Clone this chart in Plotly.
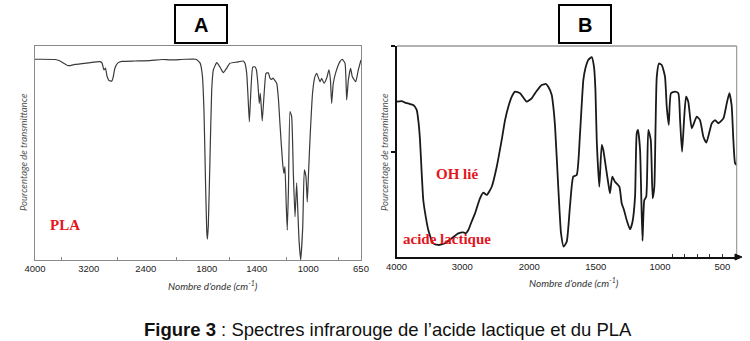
import numpy as np
import plotly.graph_objects as go

W, H = 750, 341

# ---------------- data: Panel A (PLA) ----------------
pla_wn = [4000, 3702, 3627, 3504, 3404, 3210, 3042, 3014, 2986, 2965,
          2944, 2916, 2878, 2860, 2832, 2790, 2734, 2552, 2359, 2240,
          2162, 2014, 1906, 1866, 1843, 1827, 1812, 1800, 1795, 1787,
          1774, 1760, 1747, 1720, 1694, 1667, 1640, 1614, 1558, 1507,
          1494, 1480, 1470, 1459, 1450, 1432, 1414, 1402, 1390, 1380,
          1372, 1364, 1357, 1343, 1328, 1310, 1297, 1284, 1274, 1245,
          1231, 1220, 1199, 1189, 1181, 1171, 1163, 1154, 1142, 1129,
          1116, 1103, 1090, 1080, 1072, 1059, 1043, 1031, 1018, 1008,
          999, 989, 971, 956, 944, 922, 911, 896, 878, 863,
          853, 845, 834, 816, 790, 774, 756, 745, 734, 719,
          708, 685, 668, 650]
pla_t = [93.8, 93.7, 93.0, 90.8, 91.4, 92.1, 92.7, 92.1, 88.8, 89.7,
         86.0, 83.9, 83.6, 85.0, 89.7, 92.1, 92.8, 93.0, 93.2, 93.7,
         93.5, 93.8, 93.8, 92.1, 86.4, 70.1, 37.4, 14.0, 9.7, 16.4,
         46.7, 79.4, 88.8, 92.2, 90.2, 87.5, 89.7, 91.9, 92.5, 93.0,
         91.9, 87.2, 77.1, 64.6, 74.8, 90.1, 90.3, 88.8, 81.8, 73.2,
         77.9, 71.0, 65.0, 77.1, 87.2, 87.5, 85.0, 84.4, 85.0, 82.6,
         74.8, 63.9, 45.2, 40.5, 43.6, 25.7, 14.0, 32.7, 69.3, 67.0,
         40.5, 20.2, 36.1, 21.0, 9.3, 0.0, 15.6, 42.1, 38.9, 27.2,
         39.7, 56.1, 78.6, 85.7, 87.2, 83.3, 84.9, 82.6, 84.9, 88.8,
         84.1, 73.2, 82.6, 88.0, 92.7, 93.8, 91.9, 74.8, 84.1, 89.6,
         85.7, 83.3, 88.8, 93.5]

# ---------------- data: Panel B (acide lactique) ----------------
lac_wn = [3997, 3921, 3871, 3821, 3745, 3693, 3666, 3643, 3617, 3593,
          3556, 3517, 3441, 3365, 3263, 3161, 3061, 2985, 2949, 2910,
          2863, 2810, 2736, 2686, 2636, 2561, 2486, 2412, 2362, 2313,
          2265, 2213, 2138, 2079, 2039, 1982, 1950, 1907, 1874, 1857,
          1831, 1818, 1806, 1782, 1761, 1741, 1718, 1694, 1669, 1643,
          1618, 1593, 1577, 1556, 1530, 1513, 1502, 1492, 1472, 1453,
          1441, 1414, 1400, 1389, 1371, 1350, 1316, 1298, 1280, 1259,
          1233, 1214, 1194, 1181, 1171, 1155, 1145, 1136, 1122, 1107,
          1091, 1072, 1057, 1044, 1035, 1025, 1008, 986, 960, 946,
          930, 912, 880, 853, 839, 823, 807, 791, 773, 745,
          705, 679, 652, 628, 584, 558, 531, 491, 464, 443,
          425, 411, 397, 384]
lac_t = [73.6, 73.9, 73.2, 72.8, 72.0, 69.7, 64.0, 55.5, 39.7, 27.0,
         19.1, 12.8, 6.5, 5.7, 6.5, 8.9, 11.2, 11.7, 11.2, 12.8,
         16.6, 20.7, 27.8, 30.5, 29.4, 33.3, 42.8, 55.5, 64.9, 71.2,
         75.8, 78.4, 77.6, 75.1, 73.6, 75.2, 78.2, 81.5, 82.0, 80.7,
         76.8, 70.6, 61.8, 33.3, 11.2, 4.9, 7.3, 23.8, 38.1, 38.9,
         58.6, 83.9, 89.6, 93.4, 94.7, 90.2, 79.2, 55.5, 33.3, 53.1,
         50.7, 39.7, 34.1, 30.2, 38.1, 35.7, 33.3, 25.5, 22.3, 17.5,
         13.1, 16.6, 28.6, 58.6, 60.2, 50.7, 27.0, 7.7, 27.0, 28.6,
         60.2, 55.5, 27.8, 33.3, 60.2, 85.5, 91.7, 91.0, 85.5, 71.2,
         62.6, 77.6, 78.4, 77.6, 64.9, 49.9, 64.9, 76.0, 73.6, 61.0,
         66.5, 64.9, 57.0, 54.2, 63.4, 64.9, 63.4, 65.7, 72.9, 77.6,
         72.0, 55.5, 44.4, 43.6]

assert len(pla_wn) == len(pla_t) and len(lac_wn) == len(lac_t)

# tick labels
A_ticks = [4000, 3200, 2400, 1800, 1400, 1000, 650]
A_minor = [3600, 2800, 2100, 1620, 1170, 800]
B_ticks = [4000, 3000, 2000, 1500, 1000, 500]
B_minor = list(range(900, 400, -100))

# ---------------- axis scale (piecewise, as printed on the spectra) ----------------
A_anchor_wn = [4000, 3200, 2400, 1800, 1400, 1000, 650]
A_anchor_pos = [35, 88.7, 145.8, 206.7, 256.7, 308.3, 361]
B_anchor_wn = [4000, 3000, 2000, 1500, 1000, 500, 384]
B_anchor_pos = [396.5, 462.3, 529.3, 595.7, 660, 722.3, 736.7]


def mapper(wn_anchor, pos_anchor):
    t = np.asarray(wn_anchor, float)[::-1]
    p = np.asarray(pos_anchor, float)[::-1]
    return lambda wn: np.interp(np.asarray(wn, float), t, p)


mapA = mapper(A_anchor_wn, A_anchor_pos)
mapB = mapper(B_anchor_wn, B_anchor_pos)


def px(x):
    return x / W


def py(y):
    return 1 - y / H


fig = go.Figure()
fig.add_trace(go.Scatter(x=mapA(pla_wn), y=pla_t, mode="lines",
                         line=dict(color="#3a3a3a", width=1.2, shape="spline", smoothing=0.4),
                         xaxis="x", yaxis="y", hoverinfo="skip", showlegend=False))
fig.add_trace(go.Scatter(x=mapB(lac_wn), y=lac_t, mode="lines",
                         line=dict(color="#1a1a1a", width=1.8, shape="spline", smoothing=0.5),
                         xaxis="x2", yaxis="y2", hoverinfo="skip", showlegend=False))

tickfont = dict(family="Liberation Sans, Arial, sans-serif", size=9.5, color="#222")

fig.update_layout(
    width=W, height=H,
    margin=dict(l=0, r=0, t=0, b=0, pad=0, autoexpand=False),
    paper_bgcolor="white", plot_bgcolor="white",
    showlegend=False,
    xaxis=dict(domain=[px(35), px(361)], range=[35, 361], anchor="y", automargin=False,
               tickmode="array", tickvals=mapA(A_ticks).tolist(),
               ticktext=[str(t) for t in A_ticks], ticks="",
               showline=True, linecolor="#8a8a8a", linewidth=1, mirror=True,
               showgrid=False, zeroline=False, tickfont=tickfont,
               minor=dict(tickmode="array", tickvals=mapA(A_minor).tolist(),
                          ticks="inside", ticklen=3, tickcolor="#8a8a8a", showgrid=False)),
    yaxis=dict(domain=[py(260), py(46)], range=[0, 100], anchor="x", automargin=False,
               showline=True, linecolor="#8a8a8a", linewidth=1, mirror=True,
               showticklabels=False, ticks="", showgrid=False, zeroline=False),
    xaxis2=dict(domain=[px(396.5), px(736.7)], range=[396.5, 736.7], anchor="y2", automargin=False,
                tickmode="array", tickvals=mapB(B_ticks).tolist(),
                ticktext=[str(t) for t in B_ticks], ticks="",
                showline=True, linecolor="#111", linewidth=2,
                showgrid=False, zeroline=False, tickfont=tickfont,
                minor=dict(tickmode="array", tickvals=mapB(B_minor).tolist(),
                           ticks="inside", ticklen=3, tickcolor="#333", showgrid=False)),
    yaxis2=dict(domain=[py(257), py(46)], range=[0, 100], anchor="x2", automargin=False,
                showline=True, linecolor="#111", linewidth=2,
                tickmode="array", tickvals=[50, 100], ticks="outside",
                ticklen=4, tickcolor="#111", tickwidth=1.5,
                showticklabels=False, showgrid=False, zeroline=False),
)

shapes = [
    # panel title boxes
    dict(type="rect", xref="paper", yref="paper", x0=px(175), x1=px(227), y0=py(43), y1=py(5),
         line=dict(color="black", width=2)),
    dict(type="rect", xref="paper", yref="paper", x0=px(559), x1=px(611), y0=py(43), y1=py(5),
         line=dict(color="black", width=2)),
    # panel B top and right frame
    dict(type="line", xref="paper", yref="paper", x0=px(397), x1=px(736.7), y0=py(46), y1=py(46),
         line=dict(color="#9a9a9a", width=1.6)),
    dict(type="line", xref="paper", yref="paper", x0=px(736.7), x1=px(736.7), y0=py(46), y1=py(257),
         line=dict(color="#8a8a8a", width=1)),
    # arrow head at the end of B's x axis
    dict(type="path", xref="paper", yref="paper",
         path=f"M {px(735)},{py(254)} L {px(742)},{py(257)} L {px(735)},{py(260)} Z",
         fillcolor="#111", line=dict(color="#111", width=1)),
]
fig.update_layout(shapes=shapes)

ytitle_font = dict(family="Lato, Open Sans, sans-serif", size=9.5, color="#555")
xtitle_font = dict(family="Lato, Open Sans, sans-serif", size=10, color="#333")
red_font = dict(family="Liberation Serif, Times New Roman, serif", size=15, color="#e3161d")

ann = [
    dict(x=px(201), y=py(25), text="<b>A</b>", font=dict(family="Liberation Sans, Arial", size=20, color="black")),
    dict(x=px(585), y=py(25), text="<b>B</b>", font=dict(family="Liberation Sans, Arial", size=20, color="black")),
    dict(x=px(23), y=py(152), text="<i>Pourcentage de transmittance</i>", textangle=-90, font=ytitle_font),
    dict(x=px(384), y=py(152), text="<i>Pourcentage de transmittance</i>", textangle=-90, font=ytitle_font),
    dict(x=px(213), y=py(285), text="<i>Nombre d’onde (cm<sup>-1</sup>)</i>", font=xtitle_font),
    dict(x=px(574), y=py(282), text="<i>Nombre d’onde (cm<sup>-1</sup>)</i>", font=xtitle_font),
    dict(x=px(65), y=py(225), text="<b>PLA</b>", font=red_font),
    dict(x=px(457), y=py(174), text="<b>OH lié</b>", font=red_font),
    dict(x=px(447), y=py(239), text="<b>acide lactique</b>", font=red_font),
    dict(x=px(388), y=py(329), text="<b>Figure 3</b> : Spectres infrarouge de l’acide lactique et du PLA",
         font=dict(family="Liberation Sans, Arial", size=18.5, color="#111")),
]
for a in ann:
    a.update(xref="paper", yref="paper", showarrow=False, xanchor="center", yanchor="middle")
fig.update_layout(annotations=ann)

fig.write_html("out.html")
